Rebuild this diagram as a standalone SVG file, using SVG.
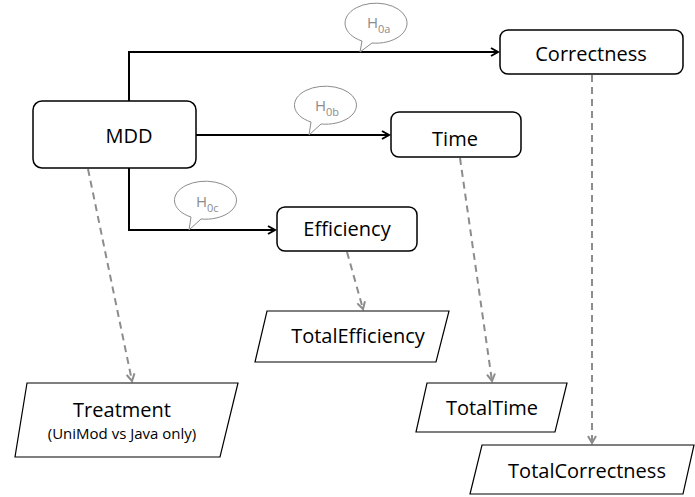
<svg xmlns="http://www.w3.org/2000/svg" width="695" height="497" viewBox="0 0 695 497">
<defs>
<marker id="ah" markerWidth="10" markerHeight="10" refX="8" refY="5" orient="auto" markerUnits="userSpaceOnUse">
<path d="M1,1 L8,5 L1,9" fill="none" stroke="#000" stroke-width="2"/>
</marker>
<marker id="ahg" markerWidth="10" markerHeight="10" refX="8" refY="5" orient="auto" markerUnits="userSpaceOnUse">
<path d="M1,1 L8,5 L1,9" fill="none" stroke="#8c8c8c" stroke-width="2"/>
</marker>
</defs>
<style>
.box{fill:#fff;stroke:#000;stroke-width:1.5}
.para{fill:#fff;stroke:#000;stroke-width:1.2}
.t{font-family:"Open Sans","Liberation Sans",sans-serif;font-size:20px;fill:#000;text-anchor:middle}
.s{font-family:"Open Sans","Liberation Sans",sans-serif;font-size:15px;fill:#000;text-anchor:middle}
.c{fill:#fff;stroke:#8c8c8c;stroke-width:1}
.h{font-family:"Open Sans","Liberation Sans",sans-serif;font-size:15px;fill:#8c8c8c}
.hs{font-size:11px}
.solid{fill:none;stroke:#000;stroke-width:2}
.dash{fill:none;stroke:#8c8c8c;stroke-width:2;stroke-dasharray:7,5}
</style>
<g id="connectors">
<path class="solid" d="M129,101 V52 H498" marker-end="url(#ah)"/>
<path class="solid" d="M196,135 H389" marker-end="url(#ah)"/>
<path class="solid" d="M129,168 V230 H275" marker-end="url(#ah)"/>
<path class="dash" d="M88,169 L132,381" marker-end="url(#ahg)"/>
<path class="dash" d="M347,252 L363,309" marker-end="url(#ahg)"/>
<path class="dash" d="M460,158 L492,381" marker-end="url(#ahg)"/>
<path class="dash" d="M592,75 V443" marker-end="url(#ahg)"/>
</g>
<g id="callout-a">
<path class="c" d="M362,41 A31,20 0 1 1 372,43 L360,52 Z"/>
<text class="h" x="367" y="28">H<tspan class="hs" dy="5">0a</tspan></text>
</g>
<g id="callout-b">
<path class="c" d="M311,122 A31,19 0 1 1 321,124 L309,135 Z"/>
<text class="h" x="315" y="111">H<tspan class="hs" dy="5">0b</tspan></text>
</g>
<g id="callout-c">
<path class="c" d="M191,217 A31,19 0 1 1 201,219 L189,230 Z"/>
<text class="h" x="196" y="207">H<tspan class="hs" dy="5">0c</tspan></text>
</g>
<g id="mdd">
<rect class="box" x="33" y="101" width="163" height="67" rx="9"/>
<text class="t" x="129" y="143">MDD</text>
</g>
<g id="correctness">
<rect class="box" x="500" y="30" width="183" height="44" rx="8"/>
<text class="t" x="591" y="61">Correctness</text>
</g>
<g id="time">
<rect class="box" x="391" y="112" width="130" height="45" rx="8"/>
<text class="t" x="455" y="146">Time</text>
</g>
<g id="efficiency">
<rect class="box" x="277" y="207" width="140" height="44" rx="8"/>
<text class="t" x="347" y="236">Efficiency</text>
</g>
<g id="totalefficiency">
<polygon class="para" points="267,311 449,311 436,362 255,362"/>
<text class="t" x="358" y="343">TotalEfficiency</text>
</g>
<g id="treatment">
<polygon class="para" points="27,383 238,383 220,457 15,457"/>
<text class="t" x="122" y="417">Treatment</text>
<text class="s" x="122" y="439">(UniMod vs Java only)</text>
</g>
<g id="totaltime">
<polygon class="para" points="427,383 567,383 555,432 416,432"/>
<text class="t" x="492" y="415">TotalTime</text>
</g>
<g id="totalcorrectness">
<polygon class="para" points="482,445 694,445 683,494 470,494"/>
<text class="t" x="587" y="478">TotalCorrectness</text>
</g>
</svg>
